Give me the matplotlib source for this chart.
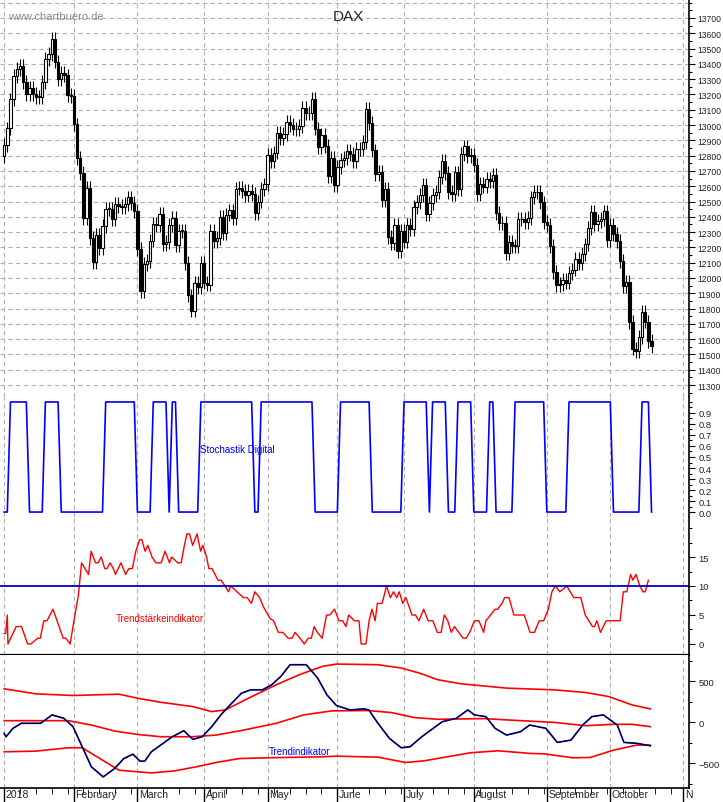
import matplotlib
matplotlib.use("Agg")
import matplotlib.pyplot as plt
import matplotlib.transforms as mtrans
import numpy as np
from matplotlib.ticker import MultipleLocator, FixedLocator, NullFormatter

plt.rcParams['font.family'] = ['Liberation Sans', 'DejaVu Sans']

# ---------------- data ----------------
closes = [12871,12978,13167,13320,13367,13386,13282,13202,13245,13201,13184,13184,13282,13434,13463,13560,13415,13298,13340,13324,13197,13189,
          13004,12785,12687,12392,12590,12260,12107,12282,12197,12339,12451,12452,12385,12487,12470,12462,12483,12527,12490,12436,
          12190,11914,12090,12113,12245,12355,12346,12418,12221,12237,12345,12390,12217,12307,12309,12100,11886,11787,11970,11940,12096,
          11970,11957,12305,12241,12261,12397,12293,12415,12442,12391,12585,12590,12567,12540,12572,12550,12422,12500,12580,12612,
          12802,12763,12820,12948,12912,12943,13022,13001,12977,12971,12996,13114,13078,13077,13169,12977,12855,12938,12863,12666,12783,12605,
          12724,12770,12787,12830,12811,12767,12842,12842,12890,13107,13011,12834,12677,12695,12512,12580,12270,12228,12349,12177,12306,
          12238,12349,12318,12465,12496,12544,12610,12417,12492,12541,12561,12662,12766,12686,12561,12548,12690,12579,12809,12860,12798,12806,
          12737,12546,12616,12598,12648,12634,12676,12424,12358,12359,12163,12237,12211,12210,12384,12385,12365,12394,12527,12561,12563,12494,12364,
          12346,12210,12040,11956,11960,11986,11970,12032,12055,12124,12096,12158,12219,12326,12431,12350,12374,12385,12435,12247,
          12346,12287,12244,12111,11947,11977,11712,11539,11524,11614,11777,11715,11589,11554]
first_open = 12800
wick = 45

month_pos = [0, 22, 42, 63, 83, 105, 126, 148, 171, 191, 214]
month_labels = ["2018", "February", "March", "April", "May", "June", "July", "August", "September", "October", "N"]

stoch_high = [(2,7),(13,17),(32,41),(47,51),(53,54),(62,78),(81,97),(106,115),(126,133),(135,139),
              (143,147),(153,154),(161,170),(178,191),(201,203)]

tsi_day = [0,0.5,1,1.2,3.8,5.5,7.4,8.4,10.6,11.4,12.5,13.5,15.4,18.6,19.4,20.8,22.3,23.4,24.4,26.6,27.4,28.8,29.6,30.6,31.7,32.4,
           33.4,34.4,35.1,36.8,38.3,39.3,40.4,41.5,42.7,43.4,44.4,45.3,46.6,47.8,49.5,50.7,52.1,52.8,54.7,55.8,56.8,57.6,58.4,59.4,
           60.8,61.9,62.6,63.8,64.5,65.5,67.4,68.4,69.6,70.7,71.4,75.4,76.6,77.9,79,80.5,81.7,83.8,84.9,86.4,87.8,89.5,90.7,91.7,
           93.2,94.6,95.8,96.8,97.7,98.7,100.2,101.6,102.6,104.1,105.5,106.7,107.7,108.6,110.4,111.8,112.5,114,115,115.9,116.9,117.6,
           119.1,120.5,121.7,122.7,123.7,124.5,125.6,126.6,128.5,129.6,130.7,132.2,133.6,135.1,136.5,137.7,138.7,139.8,140.9,141.9,
           144.6,145.6,146.7,148.2,149.6,151.1,151.8,153.3,154.7,155.5,156.9,157.7,159.1,160.6,162.7,163.9,165.7,167.1,168.6,170,
           171.5,172.6,173.7,175.1,177.3,179.5,181.7,183.1,185.4,186,186.8,187.9,189.7,191.9,194.1,195.1,196.2,197.4,198.1,199.1,
           200.3,201.3,202,203]
tsi_val = [1.8,1.8,5,0,3,3,0,0,1,1,4,4,6,1,1,0,5,8.4,14,12,16,14,14,15,13,13,14,13,12,14,12,13,13,16,18,18,16,17,15,14,14,16,
           14,15,14,14,17,19,19,17,19,16,17,15,13,13,11,11,10,9,10,8,8,7,9,8,6.4,4.4,4,2,2,1,1,2,1,0,1,1,3,2,1,5,5,6,4,4,3,5,4,4,
           0,0,4,6,4,7,7,10,8,9,8,9,7,8,5,5,4,6,4,4,2,2,5,4,2,3,1,1,2,4,4,2,4,5,6,6,7,8,8,5,5,5,2,2,4,4,6,9,10,9,10,8,8,5,3,3,4,
           2,4,4,4,9,9,12,11,12,10,9,9,11]

ti_day = [0,0.6,2.8,5.4,11.5,15.1,18.8,21.7,24.6,27.5,31.2,34.8,37.7,40.6,42.8,44.3,46.4,49.3,53,56.6,59.5,62.4,65.4,68.3,71.2,
          74.8,77.7,81.4,84.3,87.2,90.1,95.2,98.8,101.7,104.7,109,113.4,114.9,117.8,121.4,125.1,127.9,131.6,135.2,138.1,142.5,146.1,
          148.2,151.8,154.7,158.3,162.7,165.6,170.7,174.3,178.6,182.3,185.2,188.8,193.2,195.3,199.5,203.6]
ti_val = [-134,-175,-73,-12,-12,90,49,-53,-297,-541,-663,-562,-440,-387,-472,-472,-358,-277,-175,-102,-208,-175,-53,90,212,354,
          395,395,456,558,700,700,537,334,204,151,163,151,-12,-195,-309,-297,-175,-73,8,49,151,90,69,-73,-155,-114,-33,-73,-244,
          -216,-33,69,90,-33,-244,-256,-285]

band_up_day = [0,10,21.7,36.2,42,49.3,59.5,65.4,69.7,77,85.7,93,100.3,104.7,117.8,125.1,130.9,136.7,144,158.5,173.1,183.3,190.5,197.8,203.6]
band_up_val = [407,346,326,342,293,244,191,130,151,293,456,578,680,708,700,660,598,517,468,415,395,362,313,212,163]
band_mid_day = [0,20.2,27.5,34.8,42,49.3,59.5,66.8,75.5,85.7,94.4,103.2,114.8,122.1,129.4,136.7,144,151.3,158.5,173.1,183.3,192,197.8,203.6]
band_mid_val = [20,20,-33,-106,-147,-175,-175,-155,-94,-12,90,139,143,118,57,37,41,45,29,0,-41,-24,-24,-53]
band_lo_day = [0,10,20.2,24.6,36.2,46.4,53.7,61,66.8,74.1,82.8,100.3,104.7,117.8,126.5,132.3,139.6,146.9,155.7,165.9,170.3,179.1,184.7,192,199.3,203.6]
band_lo_val = [-358,-350,-309,-309,-582,-615,-590,-537,-488,-440,-431,-419,-411,-423,-488,-468,-419,-370,-346,-378,-383,-431,-427,-338,-277,-277]


def line(ax, xs, ys, **kw):
    n = min(len(xs), len(ys))
    ax.plot(xs[:n], ys[:n], **kw)


# ---------------- figure ----------------
W, H = 723, 803
fig = plt.figure(figsize=(W/100, H/100), dpi=100)
L, R = 0.0, 689/W

def mk(top, bot):
    return fig.add_axes([L, 1-bot/H, R-L, (bot-top)/H])

ax1 = mk(0, 398)
ax2 = mk(398, 518)
ax3 = mk(518, 656)
ax4 = mk(656, 789)
xlim = (-1.3, 215.8)
grid_kw = dict(color="#b0b0b0", ls=(0, (4, 3)), lw=0.8)
FS = 6.8

for ax in (ax1, ax2, ax3, ax4):
    ax.set_xlim(*xlim)
    for s in ("top", "left", "bottom"):
        ax.spines[s].set_visible(False)
    ax.spines["right"].set_linewidth(1.2)
    ax.yaxis.tick_right()
    ax.tick_params(axis="y", which="both", direction="out", labelsize=FS, length=4, width=0.8, pad=3,
                   labelcolor="#222222")
    ax.tick_params(axis="y", which="minor", length=2)
    ax.tick_params(axis="x", which="both", length=0, labelbottom=False)
    for m in month_pos:
        ax.axvline(m, zorder=0, **grid_kw)

# price candles
opens = [first_open] + closes[:-1]
for i, (o, c) in enumerate(zip(opens, closes)):
    hi, lo = max(o, c) + wick, min(o, c) - wick
    ax1.vlines(i, lo, hi, color="black", lw=0.8, zorder=2)
    up = c >= o
    h = max(abs(c - o), 4)
    ax1.add_patch(plt.Rectangle((i - 0.38, min(o, c)), 0.76, h, facecolor="white" if up else "black",
                                edgecolor="black", lw=0.8, zorder=3))
ax1.set_ylim(11222, 13824)
ax1.set_yticks(np.arange(11300, 13701, 100))
ax1.yaxis.set_minor_locator(MultipleLocator(50))
ax1.tick_params(axis="y", labelsize=6.2, pad=2)
for v in np.arange(11300, 13801, 100):
    ax1.axhline(v, zorder=0, **grid_kw)
ax1.text(348, H - 17, "DAX", transform=None, fontsize=11, ha="center", va="center", color="#222222")
ax1.text(0.012, 0.957, "www.chartbuero.de", transform=ax1.transAxes, fontsize=8, color="#888888", va="center")

# stochastik digital
sx, sy = [0], [0]
for a, b in stoch_high:
    sx += [a - 1, a, b, b + 1]
    sy += [0, 1, 1, 0]
sx.append(len(closes) - 1); sy.append(0)
ax2.plot(sx, sy, color="#0000ff", lw=1.2)
ax2.set_ylim(-0.045, 1.045)
ax2.set_yticks(np.round(np.arange(0, 0.91, 0.1), 1))
ax2.yaxis.set_minor_locator(MultipleLocator(0.05))
ax2.set_yticklabels([f"{v:.1f}" for v in np.arange(0, 0.91, 0.1)])
ax2.text(0.29, 0.57, "Stochastik Digital", transform=ax2.transAxes, fontsize=7, color="#0000ff", va="center")

# trendstaerke
line(ax3, tsi_day, tsi_val, color="#ff0000", lw=1.0)
ax3.axhline(10, color="#0000cc", lw=1.3)
ax3.axhline(-1.9, color="black", lw=1.6, clip_on=False)
ax3.set_ylim(-1.9, 21.9)
ax3.set_yticks([0, 5, 10, 15])
ax3.yaxis.set_minor_locator(FixedLocator([2.5, 7.5, 12.5, 17.5, 20]))
ax3.yaxis.set_minor_formatter(NullFormatter())
ax3.text(0.168, 0.27, "Trendstärkeindikator", transform=ax3.transAxes, fontsize=7, color="#ff0000", va="center")

# trendindikator
line(ax4, band_up_day, band_up_val, color="#ff0000", lw=1.2)
line(ax4, band_mid_day, band_mid_val, color="#ff0000", lw=1.2)
line(ax4, band_lo_day, band_lo_val, color="#ff0000", lw=1.2)
line(ax4, ti_day, ti_val, color="#0000ff", lw=1.2)
line(ax4, ti_day, ti_val, color="black", lw=0.7)
ax4.set_ylim(-798, 818)
ax4.set_yticks([-500, 0, 500])
ax4.yaxis.set_minor_locator(MultipleLocator(250))
ax4.text(0.39, 0.28, "Trendindikator", transform=ax4.transAxes, fontsize=7, color="#0000ff", va="center")
ax4.spines["bottom"].set_visible(True)
ax4.spines["bottom"].set_linewidth(1.2)
ax4.set_xticks(month_pos)
ax4.set_xticks(np.arange(5, 215, 5), minor=True)
ax4.tick_params(axis="x", which="major", length=12, width=1.0, direction="out", labelbottom=False)
ax4.tick_params(axis="x", which="minor", length=4, direction="out")
tr = mtrans.blended_transform_factory(ax4.transData, ax4.transAxes) + mtrans.ScaledTranslation(1.5/100, -1.5/100, fig.dpi_scale_trans)
for m, lab in zip(month_pos, month_labels):
    ax4.text(m, 0, lab, transform=tr, ha="left", va="top", fontsize=7.5, color="#222222")

fig.savefig("out.png", dpi=100)
